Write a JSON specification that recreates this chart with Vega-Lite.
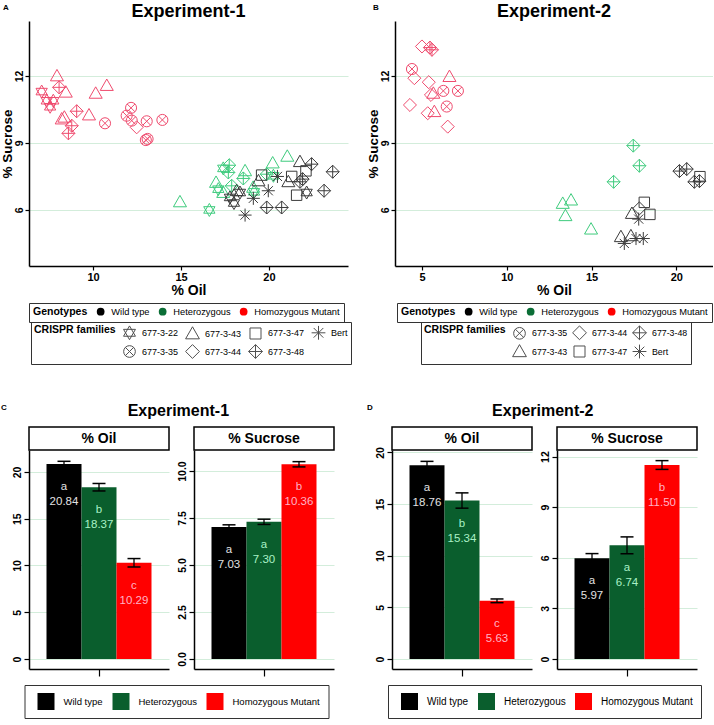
{
"$schema": "https://vega.github.io/schema/vega-lite/v6.json",
"background": "white",
"padding": {"left": 0, "top": 3, "right": 0, "bottom": 0},
"config": {
  "font": "Liberation Sans",
  "view": {"stroke": null},
  "axis": {"domainColor": "black", "domainWidth": 1.5, "tickColor": "black", "tickWidth": 1.2, "labelColor": "black", "labelFontWeight": "bold", "titleColor": "black", "titleFontWeight": "bold", "gridColor": "#d3eddb", "gridWidth": 1},
  "legend": {"labelColor": "black", "titleColor": "black", "labelFont": "Liberation Sans", "titleFont": "Liberation Sans"},
  "title": {"color": "black", "font": "Liberation Sans"}
},
"datasets": {
  "scatter1": [
    {"oil":7.95,"sucrose":12.0,"genotype":"Homozygous Mutant","family":"677-3-43"},
    {"oil":7.08,"sucrose":11.3,"genotype":"Homozygous Mutant","family":"677-3-22"},
    {"oil":8.07,"sucrose":11.49,"genotype":"Homozygous Mutant","family":"677-3-48"},
    {"oil":8.45,"sucrose":11.27,"genotype":"Homozygous Mutant","family":"677-3-43"},
    {"oil":7.37,"sucrose":10.89,"genotype":"Homozygous Mutant","family":"677-3-22"},
    {"oil":7.74,"sucrose":10.89,"genotype":"Homozygous Mutant","family":"677-3-22"},
    {"oil":7.56,"sucrose":10.62,"genotype":"Homozygous Mutant","family":"677-3-22"},
    {"oil":10.15,"sucrose":11.22,"genotype":"Homozygous Mutant","family":"677-3-43"},
    {"oil":10.78,"sucrose":11.57,"genotype":"Homozygous Mutant","family":"677-3-43"},
    {"oil":9.07,"sucrose":10.42,"genotype":"Homozygous Mutant","family":"677-3-48"},
    {"oil":8.22,"sucrose":10.07,"genotype":"Homozygous Mutant","family":"677-3-43"},
    {"oil":8.37,"sucrose":10.15,"genotype":"Homozygous Mutant","family":"677-3-43"},
    {"oil":9.77,"sucrose":10.25,"genotype":"Homozygous Mutant","family":"677-3-43"},
    {"oil":8.79,"sucrose":9.77,"genotype":"Homozygous Mutant","family":"677-3-48"},
    {"oil":8.6,"sucrose":9.43,"genotype":"Homozygous Mutant","family":"677-3-48"},
    {"oil":10.68,"sucrose":9.88,"genotype":"Homozygous Mutant","family":"677-3-35"},
    {"oil":12.16,"sucrose":10.57,"genotype":"Homozygous Mutant","family":"677-3-35"},
    {"oil":11.91,"sucrose":10.22,"genotype":"Homozygous Mutant","family":"677-3-35"},
    {"oil":12.2,"sucrose":10.0,"genotype":"Homozygous Mutant","family":"677-3-35"},
    {"oil":12.48,"sucrose":9.7,"genotype":"Homozygous Mutant","family":"677-3-44"},
    {"oil":13.05,"sucrose":9.97,"genotype":"Homozygous Mutant","family":"677-3-35"},
    {"oil":13.94,"sucrose":10.03,"genotype":"Homozygous Mutant","family":"677-3-35"},
    {"oil":13.0,"sucrose":9.13,"genotype":"Homozygous Mutant","family":"677-3-35"},
    {"oil":13.1,"sucrose":9.18,"genotype":"Homozygous Mutant","family":"677-3-35"},
    {"oil":14.94,"sucrose":6.36,"genotype":"Heterozygous","family":"677-3-43"},
    {"oil":16.61,"sucrose":6.0,"genotype":"Heterozygous","family":"677-3-22"},
    {"oil":17.4,"sucrose":7.86,"genotype":"Heterozygous","family":"677-3-22"},
    {"oil":17.74,"sucrose":8.0,"genotype":"Heterozygous","family":"677-3-48"},
    {"oil":17.69,"sucrose":7.68,"genotype":"Heterozygous","family":"677-3-48"},
    {"oil":16.99,"sucrose":7.23,"genotype":"Heterozygous","family":"677-3-43"},
    {"oil":17.12,"sucrose":6.93,"genotype":"Heterozygous","family":"677-3-22"},
    {"oil":17.4,"sucrose":6.78,"genotype":"Heterozygous","family":"677-3-43"},
    {"oil":17.88,"sucrose":7.08,"genotype":"Heterozygous","family":"677-3-48"},
    {"oil":18.64,"sucrose":7.75,"genotype":"Heterozygous","family":"677-3-43"},
    {"oil":18.54,"sucrose":7.41,"genotype":"Heterozygous","family":"677-3-48"},
    {"oil":19.1,"sucrose":7.01,"genotype":"Heterozygous","family":"677-3-43"},
    {"oil":19.15,"sucrose":6.81,"genotype":"Heterozygous","family":"677-3-22"},
    {"oil":20.21,"sucrose":8.1,"genotype":"Heterozygous","family":"677-3-43"},
    {"oil":21.04,"sucrose":8.4,"genotype":"Heterozygous","family":"677-3-43"},
    {"oil":19.87,"sucrose":7.6,"genotype":"Heterozygous","family":"677-3-48"},
    {"oil":20.25,"sucrose":7.53,"genotype":"Heterozygous","family":"677-3-22"},
    {"oil":21.76,"sucrose":8.16,"genotype":"Wild type","family":"677-3-43"},
    {"oil":22.42,"sucrose":8.05,"genotype":"Wild type","family":"677-3-48"},
    {"oil":23.62,"sucrose":7.71,"genotype":"Wild type","family":"677-3-48"},
    {"oil":22.1,"sucrose":7.75,"genotype":"Wild type","family":"677-3-47"},
    {"oil":19.58,"sucrose":7.56,"genotype":"Wild type","family":"677-3-47"},
    {"oil":21.29,"sucrose":7.5,"genotype":"Wild type","family":"677-3-47"},
    {"oil":19.4,"sucrose":7.3,"genotype":"Wild type","family":"677-3-43"},
    {"oil":20.48,"sucrose":7.5,"genotype":"Wild type","family":"Bert"},
    {"oil":21.1,"sucrose":7.26,"genotype":"Wild type","family":"677-3-43"},
    {"oil":21.91,"sucrose":7.38,"genotype":"Wild type","family":"677-3-48"},
    {"oil":21.76,"sucrose":7.26,"genotype":"Wild type","family":"677-3-48"},
    {"oil":18.35,"sucrose":6.78,"genotype":"Wild type","family":"677-3-22"},
    {"oil":19.11,"sucrose":6.52,"genotype":"Wild type","family":"Bert"},
    {"oil":19.96,"sucrose":6.86,"genotype":"Wild type","family":"Bert"},
    {"oil":18.01,"sucrose":6.31,"genotype":"Wild type","family":"677-3-22"},
    {"oil":18.64,"sucrose":5.77,"genotype":"Wild type","family":"Bert"},
    {"oil":19.87,"sucrose":6.11,"genotype":"Wild type","family":"677-3-48"},
    {"oil":20.72,"sucrose":6.11,"genotype":"Wild type","family":"677-3-48"},
    {"oil":21.57,"sucrose":6.66,"genotype":"Wild type","family":"677-3-47"},
    {"oil":22.14,"sucrose":6.78,"genotype":"Wild type","family":"677-3-22"},
    {"oil":23.13,"sucrose":6.86,"genotype":"Wild type","family":"677-3-48"},
    {"oil":17.78,"sucrose":6.56,"genotype":"Wild type","family":"677-3-22"},
    {"oil":18.16,"sucrose":6.86,"genotype":"Wild type","family":"677-3-43"}
  ],
  "scatter2": [
    {"oil":5.0,"sucrose":13.32,"genotype":"Homozygous Mutant","family":"677-3-44"},
    {"oil":5.47,"sucrose":13.27,"genotype":"Homozygous Mutant","family":"677-3-48"},
    {"oil":5.59,"sucrose":13.17,"genotype":"Homozygous Mutant","family":"677-3-48"},
    {"oil":4.41,"sucrose":12.31,"genotype":"Homozygous Mutant","family":"677-3-35"},
    {"oil":4.55,"sucrose":11.9,"genotype":"Homozygous Mutant","family":"677-3-44"},
    {"oil":5.4,"sucrose":11.72,"genotype":"Homozygous Mutant","family":"677-3-44"},
    {"oil":6.62,"sucrose":11.97,"genotype":"Homozygous Mutant","family":"677-3-43"},
    {"oil":5.67,"sucrose":11.22,"genotype":"Homozygous Mutant","family":"677-3-43"},
    {"oil":5.53,"sucrose":11.15,"genotype":"Homozygous Mutant","family":"677-3-44"},
    {"oil":6.26,"sucrose":11.33,"genotype":"Homozygous Mutant","family":"677-3-35"},
    {"oil":7.12,"sucrose":11.33,"genotype":"Homozygous Mutant","family":"677-3-35"},
    {"oil":4.29,"sucrose":10.7,"genotype":"Homozygous Mutant","family":"677-3-44"},
    {"oil":6.46,"sucrose":10.63,"genotype":"Homozygous Mutant","family":"677-3-35"},
    {"oil":5.34,"sucrose":10.33,"genotype":"Homozygous Mutant","family":"677-3-44"},
    {"oil":5.73,"sucrose":10.4,"genotype":"Homozygous Mutant","family":"677-3-43"},
    {"oil":6.52,"sucrose":9.73,"genotype":"Homozygous Mutant","family":"677-3-44"},
    {"oil":17.46,"sucrose":8.88,"genotype":"Heterozygous","family":"677-3-48"},
    {"oil":17.82,"sucrose":7.98,"genotype":"Heterozygous","family":"677-3-48"},
    {"oil":16.3,"sucrose":7.26,"genotype":"Heterozygous","family":"677-3-48"},
    {"oil":13.3,"sucrose":6.29,"genotype":"Heterozygous","family":"677-3-43"},
    {"oil":13.79,"sucrose":6.44,"genotype":"Heterozygous","family":"677-3-43"},
    {"oil":13.46,"sucrose":5.74,"genotype":"Heterozygous","family":"677-3-43"},
    {"oil":14.97,"sucrose":5.14,"genotype":"Heterozygous","family":"677-3-43"},
    {"oil":20.18,"sucrose":7.74,"genotype":"Wild type","family":"677-3-48"},
    {"oil":20.61,"sucrose":7.83,"genotype":"Wild type","family":"677-3-48"},
    {"oil":21.39,"sucrose":7.49,"genotype":"Wild type","family":"677-3-47"},
    {"oil":21.06,"sucrose":7.26,"genotype":"Wild type","family":"677-3-48"},
    {"oil":21.36,"sucrose":7.29,"genotype":"Wild type","family":"677-3-48"},
    {"oil":18.11,"sucrose":6.34,"genotype":"Wild type","family":"677-3-47"},
    {"oil":17.38,"sucrose":5.84,"genotype":"Wild type","family":"677-3-43"},
    {"oil":17.82,"sucrose":6.07,"genotype":"Wild type","family":"677-3-44"},
    {"oil":18.44,"sucrose":5.8,"genotype":"Wild type","family":"677-3-47"},
    {"oil":17.78,"sucrose":5.59,"genotype":"Wild type","family":"Bert"},
    {"oil":16.73,"sucrose":4.8,"genotype":"Wild type","family":"677-3-43"},
    {"oil":16.93,"sucrose":4.5,"genotype":"Wild type","family":"Bert"},
    {"oil":17.32,"sucrose":4.84,"genotype":"Wild type","family":"677-3-43"},
    {"oil":17.62,"sucrose":4.72,"genotype":"Wild type","family":"Bert"},
    {"oil":18.05,"sucrose":4.72,"genotype":"Wild type","family":"Bert"}
  ],
  "bars": [
    {"exp":"Experiment-1","measure":"% Oil","group":"all","genotype":"Wild type","mean":20.84,"lo":20.54,"hi":21.14,"letter":"a"},
    {"exp":"Experiment-1","measure":"% Oil","group":"all","genotype":"Heterozygous","mean":18.37,"lo":17.97,"hi":18.77,"letter":"b"},
    {"exp":"Experiment-1","measure":"% Oil","group":"all","genotype":"Homozygous Mutant","mean":10.29,"lo":9.84,"hi":10.74,"letter":"c"},
    {"exp":"Experiment-1","measure":"% Sucrose","group":"all","genotype":"Wild type","mean":7.03,"lo":6.92,"hi":7.14,"letter":"a"},
    {"exp":"Experiment-1","measure":"% Sucrose","group":"all","genotype":"Heterozygous","mean":7.30,"lo":7.16,"hi":7.44,"letter":"a"},
    {"exp":"Experiment-1","measure":"% Sucrose","group":"all","genotype":"Homozygous Mutant","mean":10.36,"lo":10.22,"hi":10.50,"letter":"b"},
    {"exp":"Experiment-2","measure":"% Oil","group":"all","genotype":"Wild type","mean":18.76,"lo":18.39,"hi":19.13,"letter":"a"},
    {"exp":"Experiment-2","measure":"% Oil","group":"all","genotype":"Heterozygous","mean":15.34,"lo":14.6,"hi":16.08,"letter":"b"},
    {"exp":"Experiment-2","measure":"% Oil","group":"all","genotype":"Homozygous Mutant","mean":5.63,"lo":5.45,"hi":5.81,"letter":"c"},
    {"exp":"Experiment-2","measure":"% Sucrose","group":"all","genotype":"Wild type","mean":5.97,"lo":5.69,"hi":6.25,"letter":"a"},
    {"exp":"Experiment-2","measure":"% Sucrose","group":"all","genotype":"Heterozygous","mean":6.74,"lo":6.24,"hi":7.24,"letter":"a"},
    {"exp":"Experiment-2","measure":"% Sucrose","group":"all","genotype":"Homozygous Mutant","mean":11.50,"lo":11.24,"hi":11.76,"letter":"b"}
  ]
},
"spacing": 38,
"resolve": {"scale": {"color": "independent", "shape": "independent", "fill": "independent", "stroke": "independent"}, "legend": {"color": "independent", "shape": "independent", "fill": "independent", "stroke": "independent"}},
"vconcat": [
  {
    "hconcat": [
      {
        "title": {"text": "A", "anchor": "start", "frame": "bounds", "offset": -9, "fontSize": 8, "fontWeight": "bold", "dx": 3},
        "resolve": {"scale": {"color": "independent", "shape": "independent", "fill": "independent", "stroke": "independent"}, "legend": {"color": "independent", "shape": "independent", "fill": "independent", "stroke": "independent"}},
        "vconcat": [
          {
            "width": 319, "height": 245,
            "title": {"text": "Experiment-1", "fontSize": 18, "fontWeight": "bold", "anchor": "middle", "frame": "group", "offset": 0},
            "data": {"name": "scatter1"},
            "encoding": {
              "x": {"field": "oil", "type": "quantitative", "scale": {"domain": [6.36, 24.49], "nice": false, "zero": false}, "axis": {"title": "% Oil", "values": [10, 15, 20], "grid": false, "tickSize": 4, "labelFontSize": 11, "labelPadding": 1, "titleFontSize": 14, "titlePadding": 1}},
              "y": {"field": "sucrose", "type": "quantitative", "scale": {"domain": [3.49, 14.46], "nice": false, "zero": false}, "axis": {"title": "% Sucrose", "values": [6, 9, 12], "grid": true, "tickSize": 4, "labelAngle": -90, "labelAlign": "center", "labelBaseline": "bottom", "labelFontSize": 10.5, "labelPadding": 1, "titleFontSize": 13.5, "titlePadding": 0}}
            },
            "layer": [
              {
                "mark": {"type": "point", "filled": false, "strokeWidth": 1, "size": 170, "opacity": 1},
                "encoding": {
                  "stroke": {"field": "genotype", "type": "nominal", "scale": {"domain": ["Homozygous Mutant", "Heterozygous", "Wild type"], "range": ["#ef4b6e", "#3ecb7d", "#3b3b3b"]}, "legend": null},
                  "shape": {"field": "family", "type": "nominal",
                    "scale": {"domain": ["677-3-22", "677-3-43", "677-3-47", "Bert", "677-3-35", "677-3-44", "677-3-48"],
                      "range": ["M0,-1L0.866,0.5L-0.866,0.5ZM0,1L0.866,-0.5L-0.866,-0.5Z", "M0,-1L1,0.75L-1,0.75Z", "M-0.8,-0.8L0.8,-0.8L0.8,0.8L-0.8,0.8Z", "M0,-1L0,1M-1,0L1,0M-0.7,-0.7L0.7,0.7M-0.7,0.7L0.7,-0.7", "M0.85,0C0.85,0.469,0.469,0.85,0,0.85C-0.469,0.85,-0.85,0.469,-0.85,0C-0.85,-0.469,-0.469,-0.85,0,-0.85C0.469,-0.85,0.85,-0.469,0.85,0ZM-0.6,-0.6L0.6,0.6M-0.6,0.6L0.6,-0.6", "M0,-1L1,0L0,1L-1,0Z", "M0,-1L1,0L0,1L-1,0ZM0,-1L0,1M-1,0L1,0"]},
                    "legend": {"title": "CRISPR families", "orient": "none", "legendX": 2, "legendY": 301, "columns": 4, "direction": "horizontal", "titleOrient": "left", "titleAnchor": "start", "titleBaseline": "top", "titleFontSize": 10.5, "titleFontWeight": "bold", "titlePadding": 6, "labelFontSize": 9, "labelOffset": 5, "columnPadding": 4, "rowPadding": 0, "symbolSize": 190, "symbolStrokeWidth": 1, "symbolStrokeColor": "#505050", "symbolFillColor": "transparent", "strokeColor": "#333333", "padding": 3}}
                }
              },
              {
                "transform": [{"filter": "false"}],
                "mark": {"type": "point", "filled": true, "size": 50, "opacity": 1},
                "encoding": {
                  "fill": {"field": "genotype", "type": "nominal", "scale": {"domain": ["Wild type", "Heterozygous", "Homozygous Mutant"], "range": ["#000000", "#0b6e36", "#ff0000"]},
                    "legend": {"title": "Genotypes", "orient": "none", "legendX": 0, "legendY": 282, "direction": "horizontal", "titleOrient": "left", "titleAnchor": "start", "titleBaseline": "top", "titleFontSize": 10.5, "titleFontWeight": "bold", "titlePadding": 8, "labelFontSize": 9.3, "labelOffset": 6, "columnPadding": 8, "symbolType": "circle", "symbolSize": 60, "symbolStrokeWidth": 0, "symbolOpacity": 1, "strokeColor": "#333333", "padding": 4}}
                }
              }
            ]
          }
        ]
      },
      {
        "title": {"text": "B", "anchor": "start", "frame": "bounds", "offset": -9, "fontSize": 8, "fontWeight": "bold", "dx": 7},
        "resolve": {"scale": {"color": "independent", "shape": "independent", "fill": "independent", "stroke": "independent"}, "legend": {"color": "independent", "shape": "independent", "fill": "independent", "stroke": "independent"}},
        "vconcat": [
          {
            "width": 318, "height": 245,
            "title": {"text": "Experiment-2", "fontSize": 18, "fontWeight": "bold", "anchor": "middle", "frame": "group", "offset": 0},
            "data": {"name": "scatter2"},
            "encoding": {
              "x": {"field": "oil", "type": "quantitative", "scale": {"domain": [3.41, 22.16], "nice": false, "zero": false}, "axis": {"title": "% Oil", "values": [5, 10, 15, 20], "grid": false, "tickSize": 4, "labelFontSize": 11, "labelPadding": 1, "titleFontSize": 14, "titlePadding": 1}},
              "y": {"field": "sucrose", "type": "quantitative", "scale": {"domain": [3.49, 14.46], "nice": false, "zero": false}, "axis": {"title": "% Sucrose", "values": [6, 9, 12], "grid": true, "tickSize": 4, "labelAngle": -90, "labelAlign": "center", "labelBaseline": "bottom", "labelFontSize": 10.5, "labelPadding": 1, "titleFontSize": 13.5, "titlePadding": 0}}
            },
            "layer": [
              {
                "mark": {"type": "point", "filled": false, "strokeWidth": 1, "size": 170, "opacity": 1},
                "encoding": {
                  "stroke": {"field": "genotype", "type": "nominal", "scale": {"domain": ["Homozygous Mutant", "Heterozygous", "Wild type"], "range": ["#ef4b6e", "#3ecb7d", "#3b3b3b"]}, "legend": null},
                  "shape": {"field": "family", "type": "nominal",
                    "scale": {"domain": ["677-3-35", "677-3-44", "677-3-48", "677-3-43", "677-3-47", "Bert"],
                      "range": ["M0.85,0C0.85,0.469,0.469,0.85,0,0.85C-0.469,0.85,-0.85,0.469,-0.85,0C-0.85,-0.469,-0.469,-0.85,0,-0.85C0.469,-0.85,0.85,-0.469,0.85,0ZM-0.6,-0.6L0.6,0.6M-0.6,0.6L0.6,-0.6", "M0,-1L1,0L0,1L-1,0Z", "M0,-1L1,0L0,1L-1,0ZM0,-1L0,1M-1,0L1,0", "M0,-1L1,0.75L-1,0.75Z", "M-0.8,-0.8L0.8,-0.8L0.8,0.8L-0.8,0.8Z", "M0,-1L0,1M-1,0L1,0M-0.7,-0.7L0.7,0.7M-0.7,0.7L0.7,-0.7"]},
                    "legend": {"title": "CRISPR families", "orient": "none", "legendX": 26, "legendY": 301, "columns": 3, "direction": "horizontal", "titleOrient": "left", "titleAnchor": "start", "titleBaseline": "top", "titleFontSize": 10.5, "titleFontWeight": "bold", "titlePadding": 6, "labelFontSize": 8.8, "labelOffset": 5, "columnPadding": 2, "rowPadding": 0, "symbolSize": 190, "symbolStrokeWidth": 1, "symbolStrokeColor": "#505050", "symbolFillColor": "transparent", "strokeColor": "#333333", "padding": 3}}
                }
              },
              {
                "transform": [{"filter": "false"}],
                "mark": {"type": "point", "filled": true, "size": 50, "opacity": 1},
                "encoding": {
                  "fill": {"field": "genotype", "type": "nominal", "scale": {"domain": ["Wild type", "Heterozygous", "Homozygous Mutant"], "range": ["#000000", "#0b6e36", "#ff0000"]},
                    "legend": {"title": "Genotypes", "orient": "none", "legendX": 2, "legendY": 282, "direction": "horizontal", "titleOrient": "left", "titleAnchor": "start", "titleBaseline": "top", "titleFontSize": 10.5, "titleFontWeight": "bold", "titlePadding": 8, "labelFontSize": 9.3, "labelOffset": 6, "columnPadding": 8, "symbolType": "circle", "symbolSize": 60, "symbolStrokeWidth": 0, "symbolOpacity": 1, "strokeColor": "#333333", "padding": 4}}
                }
              }
            ]
          }
        ]
      }
    ],
    "spacing": 14,
    "resolve": {"scale": {"color": "independent", "shape": "independent", "fill": "independent", "stroke": "independent"}, "legend": {"color": "independent", "shape": "independent", "fill": "independent", "stroke": "independent"}}
  },
  {
    "hconcat": [
      {
        "title": {"text": "C", "anchor": "start", "frame": "bounds", "offset": -9, "fontSize": 8, "fontWeight": "bold", "dx": -11},
        "resolve": {"scale": {"color": "independent", "shape": "independent"}, "legend": {"color": "independent", "shape": "independent"}},
        "vconcat": [
          {
            "title": {"text": "Experiment-1", "fontSize": 16, "fontWeight": "bold", "anchor": "middle", "frame": "bounds", "offset": 7, "dx": 5},
            "columns": 2, "bounds": "flush", "spacing": {"row": 0, "column": 25},
            "resolve": {"scale": {"color": "independent", "shape": "independent"}, "legend": {"color": "independent", "shape": "independent"}},
            "concat": [
              {"width": 140, "height": 23, "view": {"stroke": "black", "strokeWidth": 1.5, "fill": "white"}, "data": {"values": [{"label": "% Oil"}]}, "mark": {"type": "text", "fontSize": 14, "fontWeight": "bold", "color": "black"}, "encoding": {"text": {"field": "label", "type": "nominal"}}},
              {"width": 140, "height": 23, "view": {"stroke": "black", "strokeWidth": 1.5, "fill": "white"}, "data": {"values": [{"label": "% Sucrose"}]}, "mark": {"type": "text", "fontSize": 14, "fontWeight": "bold", "color": "black"}, "encoding": {"text": {"field": "label", "type": "nominal"}}},
              {
                "width": 140, "height": 219,
                "data": {"name": "bars"},
                "transform": [{"filter": "datum.exp === 'Experiment-1' && datum.measure === '% Oil'"}],
                "encoding": {
                  "x": {"field": "group", "type": "nominal", "scale": {"paddingInner": 0, "paddingOuter": 0.1667}, "axis": {"labels": false, "title": null, "tickSize": 7, "grid": false}},
                  "xOffset": {"field": "genotype", "type": "nominal", "sort": ["Wild type", "Heterozygous", "Homozygous Mutant"], "scale": {"paddingInner": 0, "paddingOuter": 0}}
                },
                "layer": [
                  {"mark": {"type": "bar"}, "encoding": {
                    "y": {"field": "mean", "type": "quantitative", "scale": {"domain": [-1.07, 22.35], "nice": false, "zero": true}, "axis": {"values": [0, 5, 10, 15, 20], "format": "d", "title": null, "labelAngle": -90, "labelAlign": "center", "labelBaseline": "bottom", "labelFontSize": 10.5, "labelPadding": 2, "tickSize": 5, "grid": true}},
                    "y2": {"datum": 0},
                    "color": {"field": "genotype", "type": "nominal", "scale": {"domain": ["Wild type", "Heterozygous", "Homozygous Mutant"], "range": ["#000000", "#0a5e2d", "#ff0000"]},
                      "legend": {"title": " ", "titleOrient": "left", "titlePadding": 5, "titleFontSize": 10, "orient": "none", "legendX": -4.5, "legendY": 235, "direction": "horizontal", "symbolType": "square", "symbolSize": 289, "symbolStrokeWidth": 0, "labelFontSize": 9.5, "labelOffset": 9, "columnPadding": 9, "strokeColor": "#333333", "padding": 8}}
                  }},
                  {"mark": {"type": "rule", "color": "black", "strokeWidth": 1.3}, "encoding": {"y": {"field": "lo", "type": "quantitative"}, "y2": {"field": "hi"}}},
                  {"mark": {"type": "point", "shape": "M-1,0L1,0", "size": 169, "filled": false, "color": "black", "strokeWidth": 1.5, "opacity": 1}, "encoding": {"y": {"field": "lo", "type": "quantitative"}}},
                  {"mark": {"type": "point", "shape": "M-1,0L1,0", "size": 169, "filled": false, "color": "black", "strokeWidth": 1.5, "opacity": 1}, "encoding": {"y": {"field": "hi", "type": "quantitative"}}},
                  {"mark": {"type": "text", "dy": 23, "fontSize": 11.5}, "encoding": {"y": {"field": "mean", "type": "quantitative"}, "text": {"field": "letter", "type": "nominal"}, "color": {"field": "genotype", "type": "nominal", "scale": {"domain": ["Wild type", "Heterozygous", "Homozygous Mutant"], "range": ["#e2e2e2", "#a9f1c6", "#ffb3c6"]}, "legend": null}}},
                  {"mark": {"type": "text", "dy": 38, "fontSize": 11.5}, "encoding": {"y": {"field": "mean", "type": "quantitative"}, "text": {"field": "mean", "type": "quantitative", "format": ".2f"}, "color": {"field": "genotype", "type": "nominal", "scale": {"domain": ["Wild type", "Heterozygous", "Homozygous Mutant"], "range": ["#e2e2e2", "#a9f1c6", "#ffb3c6"]}, "legend": null}}}
                ],
                "resolve": {"scale": {"color": "independent"}}
              },
              {
                "width": 140, "height": 219,
                "data": {"name": "bars"},
                "transform": [{"filter": "datum.exp === 'Experiment-1' && datum.measure === '% Sucrose'"}],
                "encoding": {
                  "x": {"field": "group", "type": "nominal", "scale": {"paddingInner": 0, "paddingOuter": 0.1667}, "axis": {"labels": false, "title": null, "tickSize": 7, "grid": false}},
                  "xOffset": {"field": "genotype", "type": "nominal", "sort": ["Wild type", "Heterozygous", "Homozygous Mutant"], "scale": {"paddingInner": 0, "paddingOuter": 0}}
                },
                "layer": [
                  {"mark": {"type": "bar"}, "encoding": {
                    "y": {"field": "mean", "type": "quantitative", "scale": {"domain": [-0.53, 11.12], "nice": false, "zero": true}, "axis": {"values": [0, 2.5, 5, 7.5, 10], "format": ".1f", "title": null, "labelAngle": -90, "labelAlign": "center", "labelBaseline": "bottom", "labelFontSize": 10.5, "labelPadding": 2, "tickSize": 5, "grid": true}},
                    "y2": {"datum": 0},
                    "color": {"field": "genotype", "type": "nominal", "scale": {"domain": ["Wild type", "Heterozygous", "Homozygous Mutant"], "range": ["#000000", "#0a5e2d", "#ff0000"]}, "legend": null}
                  }},
                  {"mark": {"type": "rule", "color": "black", "strokeWidth": 1.3}, "encoding": {"y": {"field": "lo", "type": "quantitative"}, "y2": {"field": "hi"}}},
                  {"mark": {"type": "point", "shape": "M-1,0L1,0", "size": 169, "filled": false, "color": "black", "strokeWidth": 1.5, "opacity": 1}, "encoding": {"y": {"field": "lo", "type": "quantitative"}}},
                  {"mark": {"type": "point", "shape": "M-1,0L1,0", "size": 169, "filled": false, "color": "black", "strokeWidth": 1.5, "opacity": 1}, "encoding": {"y": {"field": "hi", "type": "quantitative"}}},
                  {"mark": {"type": "text", "dy": 23, "fontSize": 11.5}, "encoding": {"y": {"field": "mean", "type": "quantitative"}, "text": {"field": "letter", "type": "nominal"}, "color": {"field": "genotype", "type": "nominal", "scale": {"domain": ["Wild type", "Heterozygous", "Homozygous Mutant"], "range": ["#e2e2e2", "#a9f1c6", "#ffb3c6"]}, "legend": null}}},
                  {"mark": {"type": "text", "dy": 38, "fontSize": 11.5}, "encoding": {"y": {"field": "mean", "type": "quantitative"}, "text": {"field": "mean", "type": "quantitative", "format": ".2f"}, "color": {"field": "genotype", "type": "nominal", "scale": {"domain": ["Wild type", "Heterozygous", "Homozygous Mutant"], "range": ["#e2e2e2", "#a9f1c6", "#ffb3c6"]}, "legend": null}}}
                ],
                "resolve": {"scale": {"color": "independent"}}
              }
            ]
          }
        ]
      },
      {
        "title": {"text": "D", "anchor": "start", "frame": "bounds", "offset": -9, "fontSize": 8, "fontWeight": "bold", "dx": -8},
        "resolve": {"scale": {"color": "independent", "shape": "independent"}, "legend": {"color": "independent", "shape": "independent"}},
        "vconcat": [
          {
            "title": {"text": "Experiment-2", "fontSize": 16, "fontWeight": "bold", "anchor": "middle", "frame": "bounds", "offset": 7, "dx": 4.5},
            "columns": 2, "bounds": "flush", "spacing": {"row": 0, "column": 25},
            "resolve": {"scale": {"color": "independent", "shape": "independent"}, "legend": {"color": "independent", "shape": "independent"}},
            "concat": [
              {"width": 140, "height": 23, "view": {"stroke": "black", "strokeWidth": 1.5, "fill": "white"}, "data": {"values": [{"label": "% Oil"}]}, "mark": {"type": "text", "fontSize": 14, "fontWeight": "bold", "color": "black"}, "encoding": {"text": {"field": "label", "type": "nominal"}}},
              {"width": 140, "height": 23, "view": {"stroke": "black", "strokeWidth": 1.5, "fill": "white"}, "data": {"values": [{"label": "% Sucrose"}]}, "mark": {"type": "text", "fontSize": 14, "fontWeight": "bold", "color": "black"}, "encoding": {"text": {"field": "label", "type": "nominal"}}},
              {
                "width": 140, "height": 219,
                "data": {"name": "bars"},
                "transform": [{"filter": "datum.exp === 'Experiment-2' && datum.measure === '% Oil'"}],
                "encoding": {
                  "x": {"field": "group", "type": "nominal", "scale": {"paddingInner": 0, "paddingOuter": 0.1667}, "axis": {"labels": false, "title": null, "tickSize": 7, "grid": false}},
                  "xOffset": {"field": "genotype", "type": "nominal", "sort": ["Wild type", "Heterozygous", "Homozygous Mutant"], "scale": {"paddingInner": 0, "paddingOuter": 0}}
                },
                "layer": [
                  {"mark": {"type": "bar"}, "encoding": {
                    "y": {"field": "mean", "type": "quantitative", "scale": {"domain": [-0.97, 20.23], "nice": false, "zero": true}, "axis": {"values": [0, 5, 10, 15, 20], "format": "d", "title": null, "labelAngle": -90, "labelAlign": "center", "labelBaseline": "bottom", "labelFontSize": 10.5, "labelPadding": 2, "tickSize": 5, "grid": true}},
                    "y2": {"datum": 0},
                    "color": {"field": "genotype", "type": "nominal", "scale": {"domain": ["Wild type", "Heterozygous", "Homozygous Mutant"], "range": ["#000000", "#0a5e2d", "#ff0000"]},
                      "legend": {"title": " ", "titleOrient": "left", "titlePadding": 5, "titleFontSize": 10, "orient": "none", "legendX": -4, "legendY": 235, "direction": "horizontal", "symbolType": "square", "symbolSize": 289, "symbolStrokeWidth": 0, "labelFontSize": 10, "labelOffset": 9, "columnPadding": 9, "strokeColor": "#333333", "padding": 8}}
                  }},
                  {"mark": {"type": "rule", "color": "black", "strokeWidth": 1.3}, "encoding": {"y": {"field": "lo", "type": "quantitative"}, "y2": {"field": "hi"}}},
                  {"mark": {"type": "point", "shape": "M-1,0L1,0", "size": 169, "filled": false, "color": "black", "strokeWidth": 1.5, "opacity": 1}, "encoding": {"y": {"field": "lo", "type": "quantitative"}}},
                  {"mark": {"type": "point", "shape": "M-1,0L1,0", "size": 169, "filled": false, "color": "black", "strokeWidth": 1.5, "opacity": 1}, "encoding": {"y": {"field": "hi", "type": "quantitative"}}},
                  {"mark": {"type": "text", "dy": 23, "fontSize": 11.5}, "encoding": {"y": {"field": "mean", "type": "quantitative"}, "text": {"field": "letter", "type": "nominal"}, "color": {"field": "genotype", "type": "nominal", "scale": {"domain": ["Wild type", "Heterozygous", "Homozygous Mutant"], "range": ["#e2e2e2", "#a9f1c6", "#ffb3c6"]}, "legend": null}}},
                  {"mark": {"type": "text", "dy": 38, "fontSize": 11.5}, "encoding": {"y": {"field": "mean", "type": "quantitative"}, "text": {"field": "mean", "type": "quantitative", "format": ".2f"}, "color": {"field": "genotype", "type": "nominal", "scale": {"domain": ["Wild type", "Heterozygous", "Homozygous Mutant"], "range": ["#e2e2e2", "#a9f1c6", "#ffb3c6"]}, "legend": null}}}
                ],
                "resolve": {"scale": {"color": "independent"}}
              },
              {
                "width": 140, "height": 219,
                "data": {"name": "bars"},
                "transform": [{"filter": "datum.exp === 'Experiment-2' && datum.measure === '% Sucrose'"}],
                "encoding": {
                  "x": {"field": "group", "type": "nominal", "scale": {"paddingInner": 0, "paddingOuter": 0.1667}, "axis": {"labels": false, "title": null, "tickSize": 7, "grid": false}},
                  "xOffset": {"field": "genotype", "type": "nominal", "sort": ["Wild type", "Heterozygous", "Homozygous Mutant"], "scale": {"paddingInner": 0, "paddingOuter": 0}}
                },
                "layer": [
                  {"mark": {"type": "bar"}, "encoding": {
                    "y": {"field": "mean", "type": "quantitative", "scale": {"domain": [-0.59, 12.39], "nice": false, "zero": true}, "axis": {"values": [0, 3, 6, 9, 12], "format": "d", "title": null, "labelAngle": -90, "labelAlign": "center", "labelBaseline": "bottom", "labelFontSize": 10.5, "labelPadding": 2, "tickSize": 5, "grid": true}},
                    "y2": {"datum": 0},
                    "color": {"field": "genotype", "type": "nominal", "scale": {"domain": ["Wild type", "Heterozygous", "Homozygous Mutant"], "range": ["#000000", "#0a5e2d", "#ff0000"]}, "legend": null}
                  }},
                  {"mark": {"type": "rule", "color": "black", "strokeWidth": 1.3}, "encoding": {"y": {"field": "lo", "type": "quantitative"}, "y2": {"field": "hi"}}},
                  {"mark": {"type": "point", "shape": "M-1,0L1,0", "size": 169, "filled": false, "color": "black", "strokeWidth": 1.5, "opacity": 1}, "encoding": {"y": {"field": "lo", "type": "quantitative"}}},
                  {"mark": {"type": "point", "shape": "M-1,0L1,0", "size": 169, "filled": false, "color": "black", "strokeWidth": 1.5, "opacity": 1}, "encoding": {"y": {"field": "hi", "type": "quantitative"}}},
                  {"mark": {"type": "text", "dy": 23, "fontSize": 11.5}, "encoding": {"y": {"field": "mean", "type": "quantitative"}, "text": {"field": "letter", "type": "nominal"}, "color": {"field": "genotype", "type": "nominal", "scale": {"domain": ["Wild type", "Heterozygous", "Homozygous Mutant"], "range": ["#e2e2e2", "#a9f1c6", "#ffb3c6"]}, "legend": null}}},
                  {"mark": {"type": "text", "dy": 38, "fontSize": 11.5}, "encoding": {"y": {"field": "mean", "type": "quantitative"}, "text": {"field": "mean", "type": "quantitative", "format": ".2f"}, "color": {"field": "genotype", "type": "nominal", "scale": {"domain": ["Wild type", "Heterozygous", "Homozygous Mutant"], "range": ["#e2e2e2", "#a9f1c6", "#ffb3c6"]}, "legend": null}}}
                ],
                "resolve": {"scale": {"color": "independent"}}
              }
            ]
          }
        ]
      }
    ],
    "spacing": 32,
    "resolve": {"scale": {"color": "independent", "shape": "independent"}, "legend": {"color": "independent", "shape": "independent"}}
  }
]
}
